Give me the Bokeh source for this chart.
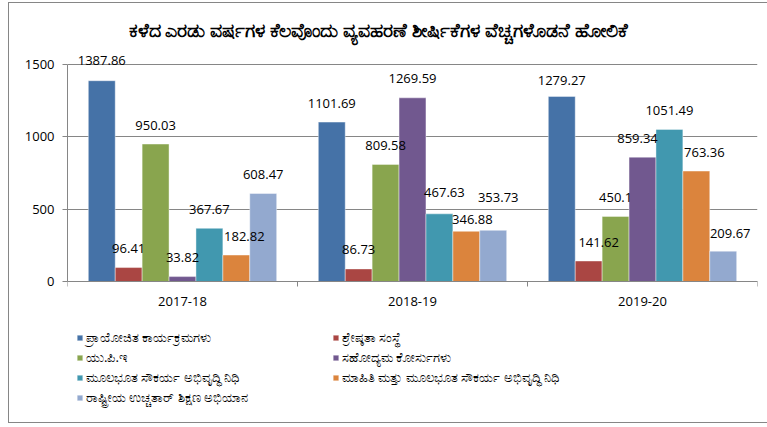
from bokeh.plotting import figure
from bokeh.models import (FactorRange, Range1d, LinearAxis, CategoricalAxis, FixedTicker,
                          ColumnDataSource, LabelSet, Legend, LegendItem, InlineStyleSheet)
from bokeh.transform import dodge
from bokeh.core.properties import value
from bokeh.embed import file_html
from bokeh.resources import INLINE

title_text = "ಕಳೆದ ಎರಡು ವರ್ಷಗಳ ಕೆಲವೊಂದು ವ್ಯವಹರಣೆ ಶೀರ್ಷಿಕೆಗಳ ವೆಚ್ಚಗಳೊಡನೆ ಹೋಲಿಕೆ"
years = ["2017-18", "2018-19", "2019-20"]
series_names = [
    "ಪ್ರಾಯೋಜಿತ ಕಾರ್ಯಕ್ರಮಗಳು",
    "ಶ್ರೇಷ್ಠತಾ ಸಂಸ್ಥೆ",
    "ಯು.ಪಿ.ಇ",
    "ಸಹೋದ್ಯಮ ಕೋರ್ಸುಗಳು",
    "ಮೂಲಭೂತ ಸೌಕರ್ಯ ಅಭಿವೃದ್ಧಿ ನಿಧಿ",
    "ಮಾಹಿತಿ ಮತ್ತು ಮೂಲಭೂತ ಸೌಕರ್ಯ ಅಭಿವೃದ್ಧಿ ನಿಧಿ",
    "ರಾಷ್ಟ್ರೀಯ ಉಚ್ಚತಾರ್ ಶಿಕ್ಷಣ ಅಭಿಯಾನ",
]
colors = ["#4572A7", "#AA4643", "#89A54E", "#71588F", "#4198AF", "#DB843D", "#93A9CF"]

s1 = [1387.86, 1101.69, 1279.27]
s2 = [96.41, 86.73, 141.62]
s3 = [950.03, 809.58, 450.1]
s4 = [33.82, 1269.59, 859.34]
s5 = [367.67, 467.63, 1051.49]
s6 = [182.82, 346.88, 763.36]
s7 = [608.47, 353.73, 209.67]
series_values = [s1, s2, s3, s4, s5, s6, s7]
y_ticks = [0, 500, 1000, 1500]

# hand-placed nudges of individual data labels, in pixels: (series, year) -> (dx, dy up)
LABEL_NUDGES = {
    (0, 0): (0, 1), (5, 0): (8, 0),
    (4, 1): (5, 2), (5, 1): (6, -7), (6, 1): (5, 14),
    (0, 2): (0, -3), (1, 2): (10, 0), (3, 2): (-5, 0), (5, 2): (8, 0), (6, 2): (7, -1),
}

FONT = "Open Sans"
GRAY = "#868686"
bar_w = 0.117

# pixel geometry of the frame (frame spans y 45..422, value 0 at y=281, 1500 at y=64)
W, H = 767, 427
TOP, BOTTOM, LEFT, RIGHT = 45, 5, 67, 10
Y0_PX, Y1500_PX = 281, 64
k = (Y0_PX - Y1500_PX) / y_ticks[-1]
y_end = (Y0_PX - TOP) / k
y_start = -((H - BOTTOM) - Y0_PX) / k

p = figure(width=W, height=H, x_range=FactorRange(*years, range_padding=0),
           y_range=Range1d(y_start, y_end), output_backend="svg", toolbar_location=None,
           x_axis_location=None, min_border_left=LEFT, min_border_right=RIGHT,
           min_border_top=TOP, min_border_bottom=BOTTOM)
p.outline_line_color = None
p.background_fill_color = "white"
p.border_fill_color = "white"

p.title.text = title_text
p.title.align = "left"
p.title.offset = 61
p.title.standoff = 6
p.title.text_font = "Noto Sans"
p.title.text_font_size = "19px"
p.title.text_font_style = "bold"
p.title.text_color = "black"

p.xgrid.grid_line_color = None
p.ygrid.grid_line_color = GRAY
p.ygrid.ticker = FixedTicker(ticks=y_ticks)

ya = p.yaxis[0]
ya.ticker = FixedTicker(ticks=y_ticks)
ya.bounds = (y_ticks[0], y_ticks[-1])
ya.axis_line_color = GRAY
ya.major_tick_line_color = GRAY
ya.major_tick_out = 5
ya.major_tick_in = 0
ya.minor_tick_line_color = None
ya.major_label_standoff = 8
ya.major_label_text_font = FONT
ya.major_label_text_font_size = "13px"
ya.major_label_text_color = "black"

# axis line with ticks on the category boundaries, drawn at value 0
ea = LinearAxis(ticker=FixedTicker(ticks=list(range(len(years) + 1))), fixed_location=0)
ea.axis_line_color = GRAY
ea.major_tick_line_color = GRAY
ea.major_tick_out = 5
ea.major_tick_in = 0
ea.minor_tick_line_color = None
ea.major_label_text_font_size = "0px"
ea.major_label_text_color = None
ea.major_label_standoff = 0
p.add_layout(ea, "below")

ca = CategoricalAxis(fixed_location=0)
ca.axis_line_color = None
ca.major_tick_line_color = None
ca.major_tick_out = 0
ca.major_label_standoff = 15
ca.major_label_text_font = FONT
ca.major_label_text_font_size = "13px"
ca.major_label_text_color = "black"
p.add_layout(ca, "below")

data = {"year": years}
for i, vals in enumerate(series_values):
    data[f"s{i}"] = vals
    data[f"l{i}"] = [str(v) for v in vals]
    data[f"dx{i}"] = [LABEL_NUDGES.get((i, j), (0, 0))[0] for j in range(len(years))]
    data[f"dy{i}"] = [19 + LABEL_NUDGES.get((i, j), (0, 0))[1] for j in range(len(years))]
src = ColumnDataSource(data)

renderers = []
for i, (name, col) in enumerate(zip(series_names, colors)):
    off = (i - 3) * bar_w
    r = p.vbar(x=dodge("year", off, range=p.x_range), top=f"s{i}", bottom=0, width=bar_w,
               source=src, fill_color=col, line_color="white", line_width=0.6, line_alpha=0.7)
    renderers.append(r)
    lbl = LabelSet(x=dodge("year", off, range=p.x_range), y=f"s{i}", text=f"l{i}",
                   source=src, x_offset=f"dx{i}", y_offset=f"dy{i}",
                   text_align="center", text_baseline="middle",
                   text_font=value(FONT), text_font_size=value("13px"), text_color="black")
    p.add_layout(lbl)

def make_legend(idx, loc):
    lg = Legend(items=[LegendItem(label=series_names[j], renderers=[renderers[j]]) for j in idx],
                location=loc, orientation="vertical")
    lg.background_fill_alpha = 0
    lg.border_line_color = None
    lg.padding = 0
    lg.margin = 0
    lg.spacing = 0
    lg.glyph_width = 7
    lg.glyph_height = 7
    lg.label_height = 20
    lg.label_standoff = 3
    lg.label_text_font = "Noto Sans"
    lg.label_text_font_size = "13px"
    lg.label_text_color = "black"
    lg.label_text_baseline = "middle"
    return lg

p.add_layout(make_legend([0, 2, 4, 6], (9, 15)))
p.add_layout(make_legend([1, 3, 5], (265, 35)))

css = InlineStyleSheet(css="""
:host { position: relative; }
:host::after { content: ''; position: absolute; left: 8px; top: 2px; right: 0px; bottom: 4px;
  border: 1.5px solid #868686; border-right: none; pointer-events: none; }
""")
p.stylesheets = [css]

open("out.html", "w").write(file_html(p, INLINE))
